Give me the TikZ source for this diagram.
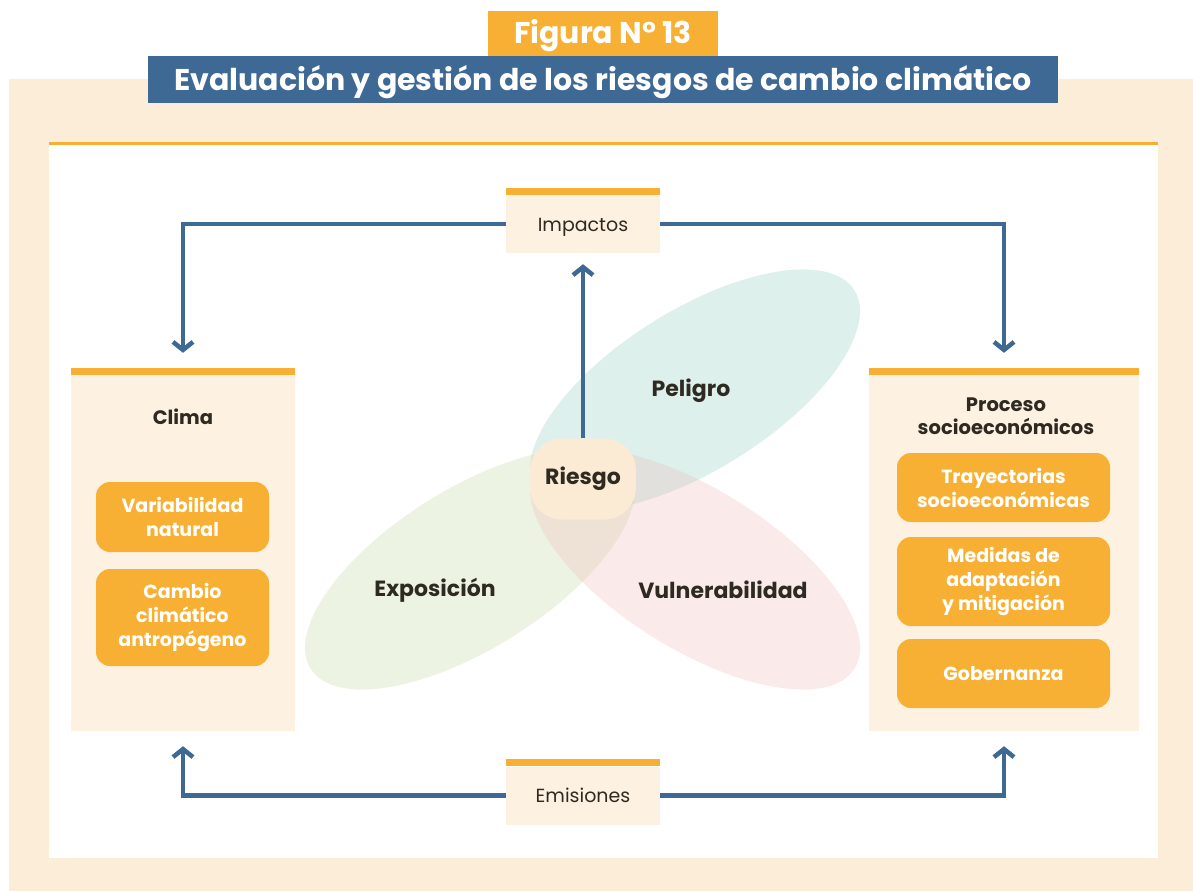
\documentclass[tikz,border=0pt]{standalone}
\usepackage{fontspec}
\setmainfont{Poppins}
\usetikzlibrary{arrows.meta}

\definecolor{azul}{HTML}{3E6995}
\definecolor{naranja}{HTML}{F8B034}
\definecolor{crema}{HTML}{FDF1E1}
\definecolor{fondo}{HTML}{FCEDD9}
\definecolor{tinta}{HTML}{2E2A22}
\definecolor{verdeagua}{RGB}{127,199,183}
\definecolor{verde}{RGB}{187,211,147}
\definecolor{rosa}{RGB}{239,179,175}
\definecolor{durazno}{HTML}{FCEBD4}

\begin{document}
\begin{tikzpicture}[x=1pt, y=-1pt,
    panel/.style={rectangle, fill=crema, minimum width=224pt, minimum height=356pt, inner sep=0pt},
    tag/.style={rectangle, fill=crema, minimum width=154pt, minimum height=58pt, text height=14pt, text depth=0pt, text=tinta, font=\fontsize{19}{23}\selectfont},
    item/.style={rectangle, rounded corners=14pt, fill=naranja, text=white, align=center, inner sep=0pt, font=\fontsize{19}{24}\selectfont\bfseries},
    head/.style={text=tinta, align=center, font=\fontsize{19.5}{23}\selectfont\bfseries},
    blob/.style={text=tinta, font=\fontsize{22}{24}\selectfont\bfseries},
    banner/.style={rectangle, text=white, text height=21pt, text depth=0pt, font=\fontsize{30}{32}\selectfont\bfseries},
    flow/.style={azul, line width=4.5pt, -{Straight Barb[length=8pt, width=20pt]}}
]
        \useasboundingbox (0,0) rectangle (1193,891);
        \fill[fondo] (9,79) rectangle (1193,891);
        \fill[white] (49,143) rectangle (1158,858);
        \fill[naranja] (49,142) rectangle (1158,145);

        % cabecera
        \draw (603,33.5) node(figura)[banner, fill=naranja, minimum width=230pt, minimum height=45pt]{Figura N° 13};
        \draw (603,79.5) node(titulo)[banner, fill=azul, minimum width=910pt, minimum height=47pt]{Evaluación y gestión de los riesgos de cambio climático};

        % elipses
        \fill[verdeagua, opacity=0.25, rotate around={32:(695,390)}] (695,390) ellipse [x radius=188, y radius=80];
        \fill[verde, opacity=0.25, rotate around={32:(470,569)}] (470,569) ellipse [x radius=188, y radius=80];
        \fill[rosa, opacity=0.25, rotate around={-32:(695,569)}] (695,569) ellipse [x radius=188, y radius=80];
        \draw (691,391) node(peligro)[blob]{Peligro};
        \draw (435,590) node(expo)[blob]{Exposición};
        \draw (723,590) node(vulne)[blob]{Vulnerabilidad};
        \draw (583,479) node(riesgo)[rectangle, fill=durazno, minimum width=106pt, minimum height=81pt, rounded corners=32pt, blob]{Riesgo};

        % cajas
        \draw (583,224) node(imp)[tag]{Impactos};
        \draw (583,795.5) node(emis)[tag]{Emisiones};
        \draw (183,553) node(clima)[panel]{};
        \draw (1004,553) node(proceso)[panel, minimum width=270pt]{};
        \fill[naranja] (imp.north west) rectangle ([yshift=7pt]imp.north east);
        \fill[naranja] (emis.north west) rectangle ([yshift=7pt]emis.north east);
        \fill[naranja] (clima.north west) rectangle ([yshift=7pt]clima.north east);
        \fill[naranja] (proceso.north west) rectangle ([yshift=7pt]proceso.north east);

        \draw (183,417) node(climat)[head]{Clima};
        \draw (182.5,517) node(variab)[item, minimum width=173pt, minimum height=70pt]{Variabilidad\\natural};
        \draw (182.5,617.5) node(cambio)[item, minimum width=173pt, minimum height=97pt]{Cambio\\climático\\antropógeno};

        \draw (1006,416.5) node(procesot)[head]{Proceso\\socioeconómicos};
        \draw (1003.5,487.5) node(trayec)[item, minimum width=213pt, minimum height=69pt]{Trayectorias\\socioeconómicas};
        \draw (1003.5,581.5) node(medidas)[item, minimum width=213pt, minimum height=89pt]{Medidas de\\adaptación\\y mitigación};
        \draw (1003.5,673.5) node(gober)[item, minimum width=213pt, minimum height=69pt]{Gobernanza};

        % flechas
        \draw[flow, shorten >=22pt] (imp.west) -| (clima.north);
        \draw[flow, shorten >=22pt] (imp.east) -| (proceso.north);
        \draw[flow, shorten >=15pt] (emis.west) -| (clima.south);
        \draw[flow, shorten >=15pt] (emis.east) -| (proceso.south);
        \draw[flow, shorten >=11pt] (riesgo.north) -- (imp.south);
    \end{tikzpicture}
\end{document}
